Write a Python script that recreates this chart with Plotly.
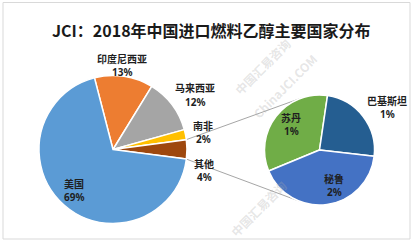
import math
import plotly.graph_objects as go

# ---------------- data ----------------
title_text = "JCI：2018年中国进口燃料乙醇主要国家分布"

main_labels = ["印度尼西亚", "马来西亚", "南非", "其他", "美国"]
main_values = [12.8, 11.9, 2.2, 4.2, 68.9]
main_colors = ["#ED7D31", "#A5A5A5", "#FFC000", "#9E480E", "#5B9BD5"]

sub_labels = ["苏丹", "巴基斯坦", "秘鲁"]
sub_values = [1.41, 1.03, 1.76]
sub_colors = ["#70AD47", "#255E91", "#4472C4"]

watermark_cn = "中国汇易咨询"
watermark_en = "ChinaJCI.COM"

# ---------------- layout geometry (pixels) ----------------
W, H = 416, 246
L_cx, L_cy, L_r = 113, 149.5, 74
R_cx, R_cy, R_r = 319.5, 150, 55
L_rot, R_rot = -14.5, -112.5

# data-label block centres (layout only)
label_pos = {
    "印度尼西亚": (122, 65), "马来西亚": (195, 95), "南非": (203, 132), "其他": (204, 170),
    "美国": (74, 190), "苏丹": (291, 124), "巴基斯坦": (387, 107), "秘鲁": (334, 185),
}
LINE_GAP = 7  # half distance between the name line and the percent line


def px(x, y):
    return x / W, 1 - y / H


def dom(cx, cy, r):
    return dict(x=[(cx - r) / W, (cx + r) / W], y=[1 - (cy + r) / H, 1 - (cy - r) / H])


name_font = dict(family="Noto Sans CJK SC", size=10, color="#1f1f1f", weight="bold")
pct_font = dict(family="Noto Sans", size=10, color="#1f1f1f", weight="bold")

fig = go.Figure()
fig.add_trace(go.Pie(
    labels=main_labels, values=main_values, sort=False, direction="clockwise",
    rotation=L_rot, domain=dom(L_cx, L_cy, L_r),
    marker=dict(colors=main_colors, line=dict(color="white", width=1.5)),
    textinfo="none", showlegend=False, hoverinfo="label+value",
))
fig.add_trace(go.Pie(
    labels=sub_labels, values=sub_values, sort=False, direction="clockwise",
    rotation=R_rot, domain=dom(R_cx, R_cy, R_r),
    marker=dict(colors=sub_colors, line=dict(color="white", width=1.5)),
    textinfo="none", showlegend=False, hoverinfo="label+value",
))

# ---------------- connector lines (from the "其他" slice edges, tangent to sub pie) ----------------
total = sum(main_values)
idx = main_labels.index("其他")
cum = sum(main_values[:idx])
a1 = math.radians(L_rot + cum / total * 360)
a2 = math.radians(L_rot + (cum + main_values[idx]) / total * 360)
shapes = []
for a, pick_upper in ((a1, True), (a2, False)):
    P = (L_cx + L_r * math.sin(a), L_cy - L_r * math.cos(a))
    vx, vy = P[0] - R_cx, P[1] - R_cy
    d = math.hypot(vx, vy)
    phi = math.atan2(vy, vx)
    beta = math.acos(R_r / d)
    cands = [(R_cx + R_r * math.cos(phi + s * beta), R_cy + R_r * math.sin(phi + s * beta)) for s in (1, -1)]
    T = min(cands, key=lambda t: t[1]) if pick_upper else max(cands, key=lambda t: t[1])
    x0, y0 = px(*P)
    x1, y1 = px(*T)
    shapes.append(dict(type="line", xref="paper", yref="paper", x0=x0, y0=y0, x1=x1, y1=y1,
                       line=dict(color="#a6a6a6", width=1), layer="below"))

# chart border
bx0, by0 = px(3, 239)
bx1, by1 = px(410, 2.5)
shapes.append(dict(type="rect", xref="paper", yref="paper", x0=bx0, y0=by0, x1=bx1, y1=by1,
                   line=dict(color="#d9d9d9", width=1), fillcolor="rgba(0,0,0,0)"))

annotations = []

# watermark (faint, diagonal)
wm_items = [
    (watermark_cn, 262, 66), (watermark_en, 284, 86),
    (watermark_cn, 258, 208),
]
for txt, x0p, y0p in wm_items:
    x, y = px(x0p, y0p)
    annotations.append(dict(text=txt, x=x, y=y, xref="paper", yref="paper",
                            xanchor="center", yanchor="middle", showarrow=False,
                            textangle=-45,
                            font=dict(family="Noto Sans CJK SC", size=12,
                                      color="rgba(170,170,170,0.3)", weight="bold")))

# data labels: category name above, share of total below
for labels, values in ((main_labels, main_values), (sub_labels, sub_values)):
    for lab, val in zip(labels, values):
        cx, cy = label_pos[lab]
        for txt, yy, fnt in ((lab, cy - LINE_GAP, name_font), (f"{val:.0f}%", cy + LINE_GAP, pct_font)):
            x, y = px(cx, yy)
            annotations.append(dict(text=txt, x=x, y=y, xref="paper", yref="paper",
                                    xanchor="center", yanchor="middle", showarrow=False,
                                    font=fnt))

tx, ty = px(211.5, 30)
annotations.append(dict(text=title_text, x=tx, y=ty, xref="paper", yref="paper",
                        xanchor="center", yanchor="middle", showarrow=False,
                        font=dict(family="Noto Sans CJK SC", size=16, color="#1a1a1a", weight="bold")))

fig.update_layout(
    width=W, height=H, margin=dict(l=0, r=0, t=0, b=0),
    paper_bgcolor="white", plot_bgcolor="white",
    shapes=shapes, annotations=annotations,
    font=dict(family="Noto Sans CJK SC"),
)
fig.write_html("out.html")
